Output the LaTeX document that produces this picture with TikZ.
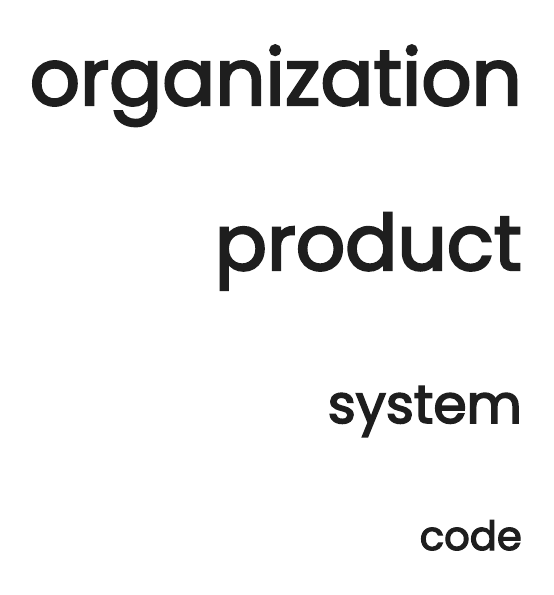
\documentclass[tikz,border=0pt]{standalone}
\usepackage{fontspec}
\setmainfont{Poppins}[RawFeature={embolden=3}]
\definecolor{ink}{HTML}{1E1E1E}
\begin{document}
\begin{tikzpicture}[x=1pt,y=-1pt,
  word/.style={anchor=base east,inner sep=0pt,text=ink,font=\fontsize{40}{48}\selectfont}]
\useasboundingbox[fill=white] (0,0) rectangle (554,595);
\node[word] (org) at (522,105) {\resizebox{492pt}{!}{organization}};
\node[word] (prod) at (522,270) {\resizebox{307pt}{!}{product}};
\node[word] (sys) at (522,423) {\resizebox{194pt}{!}{system}};
\node[word] (code) at (522,550) {\resizebox{102pt}{!}{code}};
\end{tikzpicture}
\end{document}
